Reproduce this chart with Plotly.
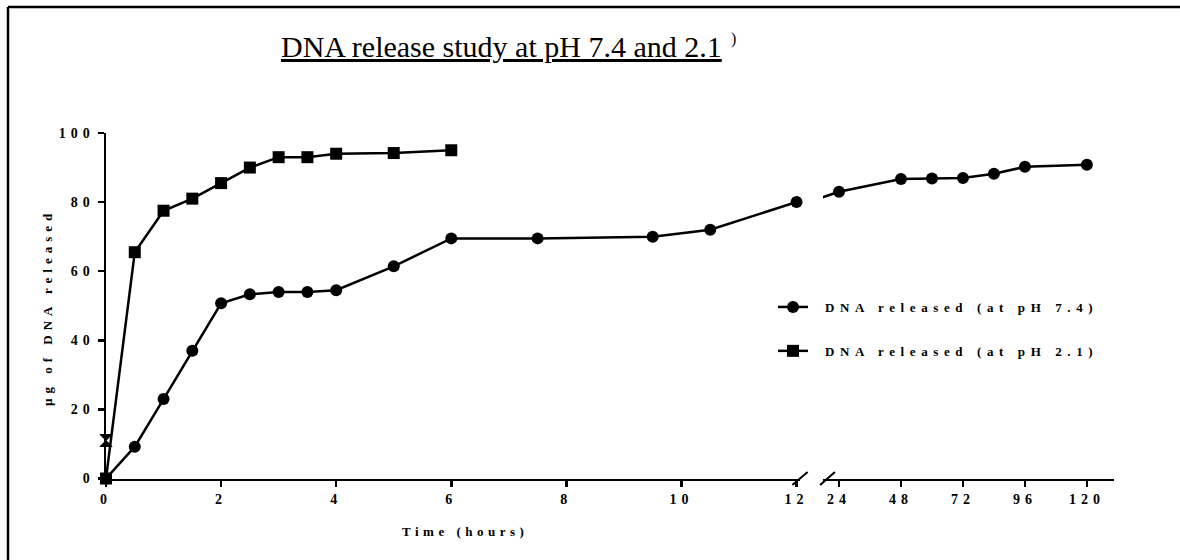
import plotly.graph_objects as go

# ---- data ----
time_ph74 = [0, 0.5, 1, 1.5, 2, 2.5, 3, 3.5, 4, 5, 6, 7.5, 9.5, 10.5, 12, 24, 48, 60, 72, 84, 96, 120]
dna_ph74 = [0, 9.2, 23, 37, 50.7, 53.3, 54, 54, 54.5, 61.4, 69.5, 69.5, 70, 72, 80, 83, 86.7, 86.8, 87, 88.2, 90.2, 90.8]

time_ph21 = [0, 0.5, 1, 1.5, 2, 2.5, 3, 3.5, 4, 5, 6]
dna_ph21 = [0, 65.5, 77.5, 81, 85.5, 90, 93, 93, 94, 94.2, 95]

extra_time = [0]
extra_dna = [11]

left_ticks = [0, 2, 4, 6, 8, 10, 12]
right_ticks = [24, 48, 72, 96, 120]
y_ticks = [0, 20, 40, 60, 80, 100]

name_74 = "DNA released (at pH 7.4)"
name_21 = "DNA released (at pH 2.1)"
title_text = "DNA release study at pH 7.4 and 2.1"
x_title = "Time (hours)"
y_title = "µg of DNA released"

BREAK = 12.06
SERIF = "Liberation Serif, Times New Roman, serif"
LW = 2.5

fig = go.Figure()

def split(xs, ys, lo, hi):
    px = [x for x in xs if lo <= x <= hi]
    py = [y for x, y in zip(xs, ys) if lo <= x <= hi]
    return px, py

for xa in ("x", "x2"):
    lo, hi = (0, BREAK) if xa == "x" else (20, 130)
    fig.add_trace(go.Scatter(x=time_ph74, y=dna_ph74, mode="lines", xaxis=xa, yaxis="y",
                             line=dict(color="black", width=LW), showlegend=False, hoverinfo="skip"))
    mx, my = split(time_ph74, dna_ph74, lo, hi)
    fig.add_trace(go.Scatter(x=mx, y=my, mode="markers", xaxis=xa, yaxis="y", cliponaxis=False,
                             marker=dict(symbol="circle", size=12, color="black"), showlegend=False))
    if xa == "x":
        fig.add_trace(go.Scatter(x=time_ph21, y=dna_ph21, mode="lines+markers", xaxis=xa, yaxis="y",
                                 cliponaxis=False,
                                 line=dict(color="black", width=LW),
                                 marker=dict(symbol="square", size=12, color="black"), showlegend=False))
        fig.add_trace(go.Scatter(x=extra_time, y=extra_dna, mode="markers", xaxis=xa, yaxis="y",
                                 cliponaxis=False,
                                 marker=dict(symbol="hourglass", size=12, color="black",
                                             line=dict(color="black", width=1)),
                                 showlegend=False))

# legend entries
fig.add_trace(go.Scatter(x=[None], y=[None], mode="lines+markers", name=name_74, legendgroup="a",
                         line=dict(color="black", width=LW), marker=dict(symbol="circle", size=12, color="black")))
fig.add_trace(go.Scatter(x=[None], y=[None], mode="lines+markers", name=name_21, legendgroup="b",
                         line=dict(color="black", width=LW), marker=dict(symbol="square", size=12, color="black")))

W, H = 1180, 560
def px_x(p): return p / W
def px_y(p): return 1 - p / H

tickfont = dict(family=SERIF, size=14, color="black", weight="bold")
axis_common = dict(showline=True, linecolor="black", linewidth=LW, ticks="outside", ticklen=6,
                   tickwidth=LW, tickcolor="black", showgrid=False, zeroline=False,
                   tickfont=tickfont, fixedrange=True, automargin=False)

legfont = dict(family=SERIF, size=13, color="black", weight="bold")
fig.update_layout(
    template="none",
    width=W, height=H,
    margin=dict(l=0, r=0, t=0, b=0, autoexpand=False),
    paper_bgcolor="white", plot_bgcolor="white",
    xaxis=dict(domain=[px_x(106), px_x(800)], range=[0, BREAK], tickvals=left_ticks,
               anchor="y", **axis_common),
    xaxis2=dict(domain=[px_x(823), px_x(1114)], range=[17.8, 130.5], tickvals=right_ticks,
                anchor="y", **axis_common),
    yaxis=dict(domain=[px_y(478.5), px_y(133)], range=[0, 100], tickvals=y_ticks,
               anchor="x", **axis_common),
    legend=dict(x=px_x(773), y=px_y(292), xanchor="left", yanchor="top",
                font=legfont, bgcolor="rgba(0,0,0,0)", tracegroupgap=24,
                traceorder="grouped"),
    showlegend=True,
)

fig.add_annotation(x=px_x(465), y=px_y(531), xref="paper", yref="paper", text=x_title,
                   showarrow=False, font=dict(family=SERIF, size=13, color="black", weight="bold"),
                   xanchor="center", yanchor="middle")
fig.add_annotation(x=px_x(47), y=px_y(307), xref="paper", yref="paper", text=y_title,
                   showarrow=False, textangle=-90,
                   font=dict(family=SERIF, size=13, color="black", weight="bold"),
                   xanchor="center", yanchor="middle")
fig.add_annotation(x=px_x(501), y=px_y(46), xref="paper", yref="paper", text=title_text,
                   showarrow=False,
                   font=dict(family=SERIF, size=30, color="black", lineposition="under"),
                   xanchor="center", yanchor="middle")
fig.add_annotation(x=px_x(733), y=px_y(39), xref="paper", yref="paper", text=")",
                   showarrow=False, font=dict(family=SERIF, size=16, color="black"),
                   xanchor="center", yanchor="middle")

# axis break marks
fig.add_shape(type="line", xref="x domain", yref="y domain", x0=1 - 0.011, x1=1 + 0.011,
              y0=-0.019, y1=0.019, line=dict(color="black", width=2))
fig.add_shape(type="line", xref="x2 domain", yref="y domain", x0=-0.01, x1=0.041,
              y0=-0.019, y1=0.019, line=dict(color="black", width=2))

# frame lines (top and left edge of picture)
fig.add_shape(type="line", xref="paper", yref="paper", x0=px_x(8), x1=px_x(8), y0=0, y1=px_y(7),
              line=dict(color="black", width=2.5))
fig.add_shape(type="line", xref="paper", yref="paper", x0=px_x(8), x1=1, y0=px_y(7), y1=px_y(7),
              line=dict(color="black", width=2.5))

post = """
document.body.style.margin='0';
document.body.style.overflow='hidden';
var gd = document.getElementById('{plot_id}');
function sp(){
  gd.querySelectorAll('.xtick text, .x2tick text, .ytick text').forEach(function(t){ t.style.letterSpacing='5px'; });
  gd.querySelectorAll('.legendtext').forEach(function(t){
    t.style.letterSpacing='5.6px';
    if (!t.dataset.shifted) {
      t.setAttribute('x', parseFloat(t.getAttribute('x') || 0) + 12);
      t.dataset.shifted = '1';
    }
  });
  gd.querySelectorAll('.legend [clip-path]').forEach(function(e){ e.removeAttribute('clip-path'); });
  gd.querySelectorAll('.annotation-text').forEach(function(t){
    var s = t.textContent;
    if (s === 'Time (hours)') { t.style.letterSpacing='4.5px'; }
    if (s === 'µg of DNA released') { t.style.letterSpacing='5px'; }
  });
}
sp();
setTimeout(sp, 50);
setTimeout(sp, 300);
"""

fig.write_html("out.html", post_script=post, config={"displayModeBar": False, "staticPlot": True})
